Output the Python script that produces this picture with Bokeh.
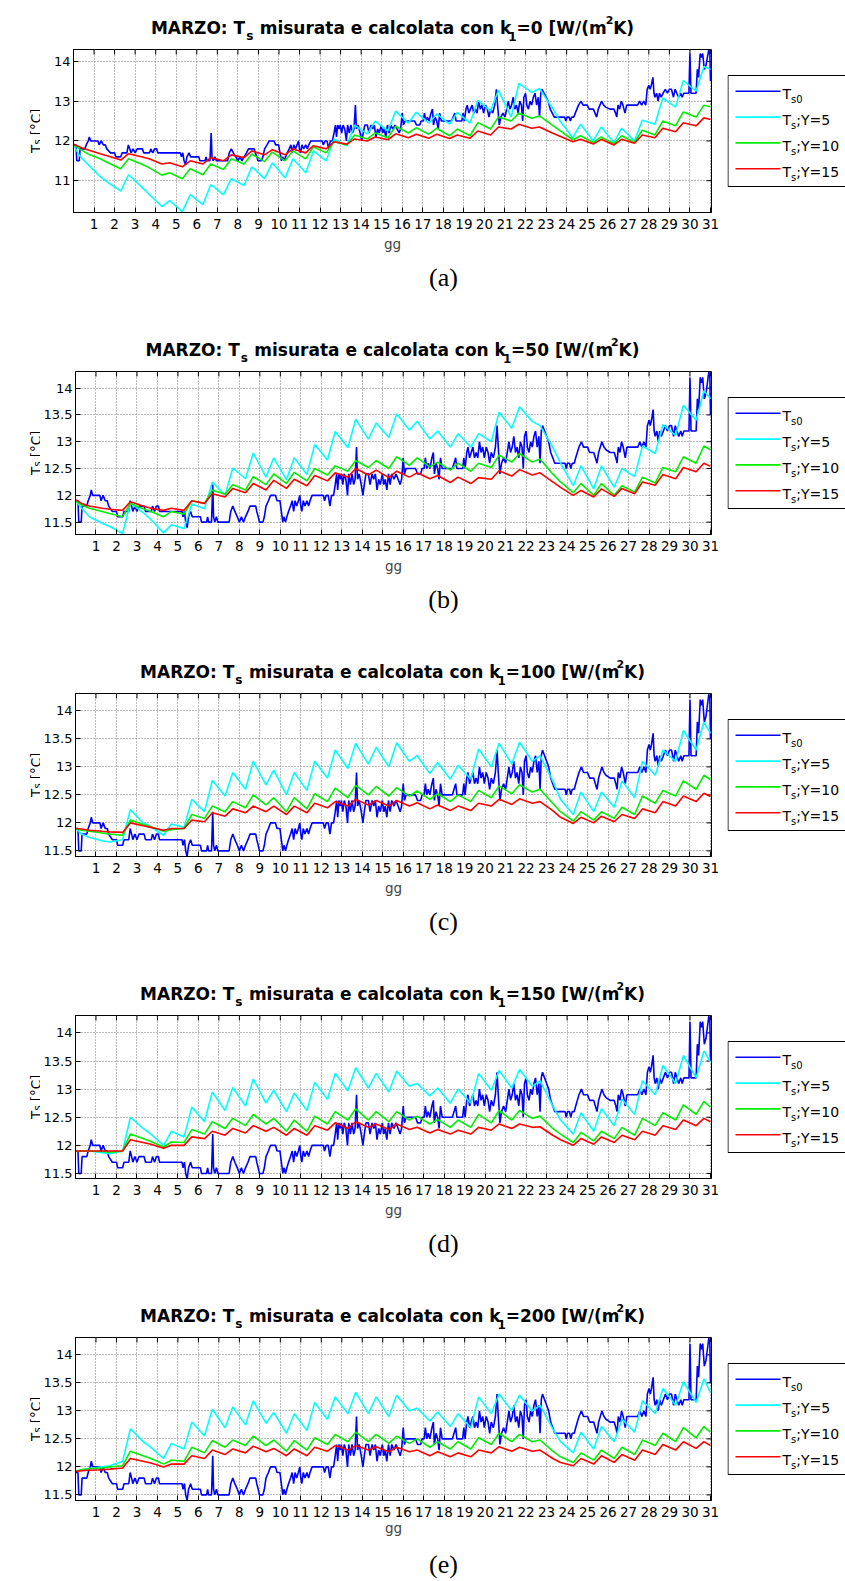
import math
from bokeh.plotting import figure
from bokeh.models import FixedTicker, Range1d
from bokeh.layouts import column, row
from bokeh.embed import file_html
from bokeh.resources import INLINE
from bokeh.core.properties import value

# ---------------- DATA ----------------
X_TICKS = list(range(1, 32))
YTICKS_A = [11, 12, 13, 14]
YLABELS_A = ["11", "12", "13", "14"]
YTICKS_B = [11.5, 12, 12.5, 13, 13.5, 14]
YLABELS_B = ["11.5", "12", "12.5", "13", "13.5", "14"]

# days at which the computed curves are sampled (start, nightly minimum, daily maximum, end)
DAY_KNOTS = [0.0,
    0.3, 0.68, 1.3, 1.68, 2.3, 2.68, 3.3, 3.68,
    4.3, 4.68, 5.3, 5.68, 6.3, 6.68, 7.3, 7.68,
    8.3, 8.68, 9.3, 9.68, 10.3, 10.68, 11.3, 11.68,
    12.3, 12.68, 13.3, 13.68, 14.3, 14.68, 15.3, 15.68,
    16.3, 16.68, 17.3, 17.68, 18.3, 18.68, 19.3, 19.68,
    20.3, 20.68, 21.3, 21.68, 22.3, 22.68, 23.3, 23.68,
    24.3, 24.68, 25.3, 25.68, 26.3, 26.68, 27.3, 27.68,
    28.3, 28.68, 29.3, 29.68, 30.3, 30.68,
    31.0]

# measured Ts0 (same in every panel): (day, degC)
TS0_POINTS = [
    (0.00, 11.9), (0.12, 11.9), (0.16, 11.5), (0.28, 11.5), (0.32, 11.8), (0.55, 11.8), (0.62, 11.9),
    (0.72, 12.0), (0.77, 12.1), (0.84, 12.0), (1.19, 12.0), (1.25, 11.9), (1.35, 12.0), (1.45, 11.9),
    (1.55, 11.9), (1.62, 11.8), (1.80, 11.7), (2.00, 11.7), (2.06, 11.6), (2.30, 11.6), (2.37, 11.7),
    (2.60, 11.7), (2.67, 11.9), (2.74, 11.8), (2.80, 11.7), (2.90, 11.8), (3.00, 11.7), (3.10, 11.8),
    (3.35, 11.8), (3.42, 11.7), (3.70, 11.7), (3.76, 11.8), (3.86, 11.7), (3.95, 11.8), (4.05, 11.8),
    (4.10, 11.7), (5.20, 11.7), (5.25, 11.6), (5.32, 11.7), (5.38, 11.5), (5.45, 11.4), (5.52, 11.6),
    (5.62, 11.7), (5.70, 11.6), (6.10, 11.6), (6.15, 11.5), (6.40, 11.5), (6.45, 11.6), (6.50, 11.5),
    (6.64, 11.5), (6.70, 12.2), (6.74, 11.6), (6.80, 11.5), (6.88, 11.6), (6.95, 11.5), (7.50, 11.5),
    (7.58, 11.7), (7.68, 11.8), (7.78, 11.7), (7.90, 11.6), (8.00, 11.5), (8.10, 11.6), (8.20, 11.5),
    (8.30, 11.6), (8.42, 11.7), (8.52, 11.8), (8.80, 11.8), (8.85, 11.7), (8.92, 11.6), (8.98, 11.5),
    (9.15, 11.5), (9.22, 11.6), (9.30, 11.8), (9.42, 11.9), (9.52, 12.0), (9.76, 12.0), (9.84, 11.9),
    (9.98, 11.9), (10.05, 11.7), (10.12, 11.5), (10.18, 11.6), (10.25, 11.5), (10.32, 11.6),
    (10.40, 11.7), (10.50, 11.8), (10.58, 11.9), (10.65, 11.7), (10.72, 11.9), (10.80, 11.8),
    (10.88, 11.9), (10.95, 12.0), (11.00, 11.8), (11.05, 11.7), (11.12, 11.9), (11.20, 11.8),
    (11.30, 11.9), (11.38, 11.8), (11.45, 11.9), (11.55, 12.0), (12.10, 12.0), (12.16, 11.9),
    (12.24, 12.0), (12.34, 12.0), (12.42, 11.8), (12.50, 12.0), (12.60, 12.0), (12.68, 12.2),
    (12.75, 12.4), (12.80, 12.1), (12.86, 12.4), (12.93, 12.3), (12.98, 12.4), (13.05, 12.2),
    (13.12, 12.4), (13.20, 12.3), (13.28, 12.0), (13.34, 12.4), (13.42, 12.2), (13.50, 12.4),
    (13.58, 12.2), (13.65, 12.3), (13.72, 12.9), (13.77, 12.3), (13.85, 12.4), (13.95, 12.2),
    (14.03, 12.0), (14.10, 12.2), (14.18, 12.4), (14.30, 12.4), (14.38, 12.2), (14.48, 12.4),
    (14.56, 12.3), (14.64, 12.4), (14.72, 12.1), (14.80, 12.3), (14.88, 12.2), (14.98, 12.4),
    (15.05, 12.2), (15.12, 12.3), (15.20, 12.1), (15.28, 12.4), (15.36, 12.2), (15.44, 12.4),
    (15.55, 12.3), (15.65, 12.4), (15.75, 12.3), (15.85, 12.2), (15.92, 12.3), (16.00, 12.7),
    (16.06, 12.4), (16.14, 12.5), (16.60, 12.5), (16.70, 12.4), (16.85, 12.4), (16.92, 12.5),
    (17.02, 12.5), (17.08, 12.7), (17.15, 12.5), (17.22, 12.6), (17.30, 12.5), (17.40, 12.7),
    (17.47, 12.8), (17.52, 12.4), (17.60, 12.6), (17.68, 12.5), (17.75, 12.3), (17.82, 12.7),
    (17.90, 12.5), (18.40, 12.5), (18.48, 12.6), (18.56, 12.7), (18.62, 12.5), (18.90, 12.5),
    (18.96, 12.7), (19.02, 12.5), (19.10, 12.8), (19.16, 12.9), (19.24, 12.7), (19.32, 12.8),
    (19.40, 12.9), (19.48, 12.7), (19.56, 12.8), (19.64, 12.7), (19.72, 13.0), (19.80, 12.8),
    (19.88, 12.9), (19.96, 12.7), (20.05, 12.9), (20.14, 12.8), (20.22, 12.6), (20.30, 12.8),
    (20.40, 12.7), (20.50, 12.9), (20.58, 13.3), (20.64, 12.9), (20.72, 12.4), (20.80, 12.6),
    (20.90, 12.7), (21.00, 12.6), (21.08, 12.8), (21.16, 13.0), (21.24, 12.8), (21.32, 12.9),
    (21.40, 13.1), (21.48, 12.8), (21.56, 12.9), (21.64, 12.7), (21.72, 13.0), (21.80, 12.9),
    (21.86, 12.5), (21.92, 13.1), (22.00, 13.2), (22.06, 12.9), (22.14, 12.8), (22.22, 13.0),
    (22.30, 12.9), (22.38, 13.1), (22.46, 13.2), (22.54, 12.9), (22.62, 13.1), (22.68, 12.6),
    (22.74, 13.2), (22.80, 13.3), (22.90, 13.2), (23.00, 13.1), (23.10, 13.0), (23.20, 12.8),
    (23.30, 12.7), (23.40, 12.6), (23.90, 12.6), (23.96, 12.5), (24.02, 12.6), (24.12, 12.6),
    (24.18, 12.5), (24.25, 12.6), (24.35, 12.6), (24.42, 12.7), (24.50, 12.8), (24.58, 12.9),
    (24.70, 13.0), (24.80, 12.9), (25.00, 12.9), (25.10, 12.8), (25.30, 12.8), (25.38, 12.7),
    (25.46, 12.6), (25.54, 12.8), (25.62, 12.9), (25.70, 13.0), (25.80, 12.9), (25.90, 12.85),
    (26.10, 12.8), (26.30, 12.8), (26.38, 12.7), (26.44, 12.6), (26.50, 12.9), (26.58, 12.8),
    (26.66, 13.0), (26.74, 12.9), (26.84, 12.7), (26.92, 12.9), (27.00, 12.9), (27.45, 12.9),
    (27.55, 13.0), (27.65, 12.9), (27.75, 13.0), (27.85, 12.9), (27.92, 13.3), (28.00, 13.4),
    (28.06, 13.3), (28.12, 13.4), (28.20, 13.6), (28.25, 13.2), (28.30, 13.1), (28.38, 13.2),
    (28.45, 13.0), (28.52, 13.2), (28.60, 13.1), (28.70, 13.2), (28.80, 13.3), (28.90, 13.2),
    (29.00, 13.3), (29.10, 13.3), (29.20, 13.1), (29.28, 13.3), (29.36, 13.2), (29.45, 13.1),
    (29.55, 13.2), (29.62, 13.1), (29.70, 13.2), (29.95, 13.2), (30.00, 14.2), (30.05, 13.2),
    (30.30, 13.2), (30.36, 13.8), (30.42, 13.6), (30.50, 14.2), (30.56, 14.1), (30.62, 14.2),
    (30.70, 13.8), (30.78, 13.9), (30.85, 14.1), (30.92, 14.3), (30.97, 14.2), (31.00, 13.5),
]
TS0_DAYS = [d for d, v in TS0_POINTS]
TS0_VALUES = [v for d, v in TS0_POINTS]

# ---- k1 = 0 ----
A_Y5 = [11.90,
    11.62, 11.42, 11.10, 10.95, 10.74, 11.15, 10.85, 10.66,
    10.35, 10.50, 10.22, 10.65, 10.40, 10.90, 10.65, 11.05,
    10.88, 11.35, 11.05, 11.45, 11.07, 11.55, 11.20, 11.75,
    11.50, 12.05, 11.88, 12.40, 12.17, 12.50, 12.25, 12.75,
    12.45, 12.72, 12.45, 12.68, 12.42, 12.72, 12.45, 13.02,
    12.75, 13.28, 12.60, 13.45, 13.22, 13.32, 12.83, 12.50,
    12.08, 12.42, 12.00, 12.35, 11.96, 12.32, 12.00, 12.52,
    12.42, 13.08, 12.85, 13.52, 13.25, 13.87,
    13.80]
A_Y10 = [11.90,
    11.80, 11.68, 11.55, 11.45, 11.30, 11.55, 11.42, 11.33,
    11.14, 11.20, 11.05, 11.30, 11.15, 11.42, 11.28, 11.55,
    11.42, 11.67, 11.48, 11.72, 11.50, 11.75, 11.55, 11.85,
    11.70, 11.98, 11.90, 12.15, 12.05, 12.20, 12.08, 12.37,
    12.20, 12.33, 12.17, 12.32, 12.13, 12.30, 12.13, 12.46,
    12.30, 12.60, 12.50, 12.70, 12.57, 12.63, 12.40, 12.26,
    12.03, 12.13, 11.96, 12.10, 11.93, 12.13, 11.96, 12.27,
    12.15, 12.50, 12.38, 12.73, 12.60, 12.90,
    12.86]
A_Y15 = [11.92,
    11.85, 11.78, 11.68, 11.62, 11.52, 11.68, 11.60, 11.55,
    11.42, 11.45, 11.35, 11.50, 11.42, 11.58, 11.50, 11.65,
    11.58, 11.75, 11.65, 11.78, 11.65, 11.80, 11.70, 11.88,
    11.80, 11.98, 11.92, 12.05, 12.00, 12.10, 12.03, 12.18,
    12.08, 12.17, 12.07, 12.17, 12.06, 12.15, 12.07, 12.25,
    12.15, 12.35, 12.30, 12.42, 12.32, 12.35, 12.20, 12.12,
    11.98, 12.04, 11.92, 12.04, 11.90, 12.04, 11.94, 12.15,
    12.08, 12.32, 12.23, 12.46, 12.38, 12.58,
    12.54]
# ---- k1 = 50 ----
B_Y5 = [11.90,
    11.76, 11.60, 11.48, 11.42, 11.29, 11.86, 11.68, 11.55,
    11.30, 11.45, 11.38, 11.84, 11.75, 12.25, 12.00, 12.51,
    12.31, 12.79, 12.34, 12.70, 12.29, 12.70, 12.39, 12.95,
    12.66, 13.19, 12.89, 13.42, 13.05, 13.35, 13.08, 13.52,
    13.22, 13.38, 13.05, 13.20, 12.90, 13.15, 12.90, 13.15,
    13.00, 13.55, 13.25, 13.65, 13.38, 13.30, 12.90, 12.60,
    12.18, 12.55, 12.12, 12.55, 12.15, 12.50, 12.35, 12.92,
    12.78, 13.32, 13.12, 13.68, 13.40, 13.95,
    13.80]
B_Y10 = [11.90,
    11.82, 11.76, 11.70, 11.66, 11.60, 11.85, 11.75, 11.70,
    11.60, 11.70, 11.65, 11.90, 11.85, 12.10, 12.02, 12.20,
    12.10, 12.35, 12.20, 12.40, 12.22, 12.43, 12.27, 12.50,
    12.38, 12.55, 12.45, 12.65, 12.52, 12.65, 12.50, 12.72,
    12.56, 12.70, 12.53, 12.62, 12.47, 12.60, 12.45, 12.60,
    12.52, 12.75, 12.62, 12.78, 12.62, 12.68, 12.40, 12.25,
    12.05, 12.22, 12.00, 12.22, 12.00, 12.18, 12.06, 12.34,
    12.23, 12.52, 12.44, 12.72, 12.60, 12.92,
    12.85]
B_Y15 = [11.92,
    11.85, 11.80, 11.76, 11.74, 11.72, 11.88, 11.80, 11.76,
    11.72, 11.76, 11.72, 11.90, 11.85, 12.03, 11.97, 12.13,
    12.05, 12.22, 12.10, 12.28, 12.13, 12.30, 12.18, 12.37,
    12.27, 12.42, 12.34, 12.50, 12.38, 12.47, 12.33, 12.45,
    12.34, 12.42, 12.31, 12.37, 12.24, 12.34, 12.22, 12.33,
    12.30, 12.46, 12.36, 12.48, 12.38, 12.42, 12.25, 12.15,
    12.00, 12.09, 11.97, 12.12, 11.98, 12.13, 12.03, 12.25,
    12.19, 12.39, 12.31, 12.52, 12.44, 12.60,
    12.54]
# ---- k1 = 100 ----
C_Y5 = [11.90,
    11.80, 11.74, 11.68, 11.66, 11.70, 12.24, 12.00, 11.93,
    11.78, 11.98, 11.92, 12.42, 12.20, 12.76, 12.48, 12.90,
    12.60, 13.10, 12.68, 12.94, 12.50, 12.90, 12.58, 13.10,
    12.80, 13.30, 12.97, 13.42, 13.05, 13.35, 13.00, 13.43,
    13.10, 13.20, 12.88, 13.08, 12.78, 13.03, 12.78, 13.32,
    13.00, 13.42, 13.05, 13.44, 13.10, 13.20, 12.75, 12.42,
    12.15, 12.55, 12.20, 12.55, 12.28, 12.75, 12.45, 13.10,
    12.85, 13.30, 13.10, 13.65, 13.30, 13.80,
    13.60]
C_Y10 = [11.90,
    11.87, 11.85, 11.82, 11.80, 11.78, 12.05, 11.97, 11.93,
    11.85, 11.88, 11.90, 12.15, 12.08, 12.30, 12.20, 12.38,
    12.27, 12.50, 12.32, 12.45, 12.20, 12.45, 12.25, 12.52,
    12.38, 12.62, 12.45, 12.67, 12.50, 12.65, 12.48, 12.63,
    12.48, 12.57, 12.42, 12.52, 12.38, 12.50, 12.38, 12.58,
    12.45, 12.66, 12.52, 12.68, 12.55, 12.60, 12.35, 12.20,
    12.03, 12.20, 12.05, 12.20, 12.08, 12.28, 12.15, 12.48,
    12.35, 12.58, 12.48, 12.75, 12.60, 12.85,
    12.77]
C_Y15 = [11.90,
    11.89, 11.87, 11.85, 11.84, 11.83, 12.00, 11.95, 11.92,
    11.87, 11.90, 11.90, 12.05, 12.02, 12.18, 12.12, 12.25,
    12.18, 12.30, 12.20, 12.30, 12.15, 12.30, 12.18, 12.35,
    12.27, 12.38, 12.30, 12.42, 12.32, 12.40, 12.30, 12.40,
    12.30, 12.36, 12.25, 12.32, 12.22, 12.30, 12.22, 12.35,
    12.30, 12.42, 12.33, 12.43, 12.35, 12.38, 12.22, 12.10,
    11.99, 12.10, 12.00, 12.12, 12.02, 12.15, 12.08, 12.25,
    12.18, 12.38, 12.30, 12.48, 12.38, 12.53,
    12.47]
# ---- k1 = 150 ----
D_Y5 = [11.90,
    11.90, 11.90, 11.87, 11.85, 11.90, 12.50, 12.30, 12.20,
    12.00, 12.25, 12.15, 12.68, 12.42, 12.95, 12.62, 13.03,
    12.70, 13.18, 12.75, 12.98, 12.60, 12.93, 12.62, 13.12,
    12.82, 13.28, 12.97, 13.38, 13.02, 13.28, 12.95, 13.32,
    13.05, 13.10, 12.88, 13.02, 12.75, 13.00, 12.75, 13.28,
    12.98, 13.33, 13.02, 13.35, 13.05, 13.15, 12.70, 12.45,
    12.20, 12.58, 12.25, 12.65, 12.35, 12.82, 12.55, 13.15,
    12.90, 13.42, 13.10, 13.60, 13.20, 13.68,
    13.48]
D_Y10 = [11.90,
    11.90, 11.90, 11.89, 11.88, 11.90, 12.20, 12.12, 12.07,
    11.97, 12.06, 12.05, 12.28, 12.20, 12.42, 12.30, 12.48,
    12.35, 12.55, 12.38, 12.48, 12.25, 12.45, 12.25, 12.52,
    12.38, 12.60, 12.45, 12.65, 12.45, 12.60, 12.42, 12.60,
    12.45, 12.52, 12.38, 12.46, 12.32, 12.45, 12.32, 12.55,
    12.40, 12.62, 12.45, 12.62, 12.48, 12.52, 12.30, 12.20,
    12.05, 12.23, 12.08, 12.25, 12.12, 12.32, 12.18, 12.48,
    12.35, 12.58, 12.45, 12.72, 12.55, 12.78,
    12.68]
D_Y15 = [11.90,
    11.90, 11.90, 11.90, 11.90, 11.90, 12.10, 12.05, 12.02,
    11.95, 12.00, 12.00, 12.15, 12.12, 12.25, 12.18, 12.30,
    12.22, 12.35, 12.25, 12.32, 12.18, 12.30, 12.18, 12.35,
    12.27, 12.40, 12.30, 12.42, 12.32, 12.38, 12.28, 12.38,
    12.28, 12.32, 12.22, 12.28, 12.20, 12.27, 12.20, 12.32,
    12.27, 12.38, 12.30, 12.38, 12.32, 12.33, 12.18, 12.10,
    12.00, 12.12, 12.02, 12.15, 12.05, 12.18, 12.10, 12.25,
    12.18, 12.35, 12.28, 12.45, 12.35, 12.48,
    12.42]
# ---- k1 = 200 ----
E_Y5 = [11.92,
    11.95, 11.97, 12.00, 12.02, 12.10, 12.68, 12.45, 12.35,
    12.15, 12.42, 12.32, 12.80, 12.55, 13.03, 12.70, 13.07,
    12.75, 13.18, 12.78, 12.97, 12.60, 12.95, 12.65, 13.15,
    12.85, 13.25, 12.95, 13.33, 12.95, 13.25, 12.90, 13.28,
    13.00, 13.05, 12.82, 12.98, 12.72, 12.95, 12.70, 13.25,
    12.95, 13.30, 13.00, 13.28, 13.00, 13.10, 12.68, 12.45,
    12.25, 12.62, 12.32, 12.72, 12.45, 12.85, 12.62, 13.18,
    12.95, 13.40, 13.10, 13.52, 13.15, 13.57,
    13.32]
E_Y10 = [11.92,
    11.95, 11.97, 11.98, 12.00, 12.02, 12.28, 12.20, 12.15,
    12.05, 12.12, 12.10, 12.35, 12.25, 12.47, 12.35, 12.48,
    12.38, 12.55, 12.38, 12.48, 12.28, 12.47, 12.30, 12.52,
    12.40, 12.58, 12.45, 12.62, 12.45, 12.58, 12.42, 12.55,
    12.42, 12.50, 12.35, 12.45, 12.32, 12.45, 12.32, 12.52,
    12.40, 12.60, 12.45, 12.58, 12.45, 12.48, 12.28, 12.18,
    12.08, 12.25, 12.12, 12.30, 12.15, 12.35, 12.22, 12.48,
    12.38, 12.60, 12.45, 12.70, 12.52, 12.72,
    12.62]
E_Y15 = [11.92,
    11.93, 11.94, 11.95, 11.96, 11.98, 12.15, 12.10, 12.07,
    12.00, 12.05, 12.05, 12.20, 12.15, 12.30, 12.22, 12.32,
    12.25, 12.37, 12.27, 12.33, 12.20, 12.32, 12.20, 12.35,
    12.28, 12.38, 12.30, 12.38, 12.30, 12.36, 12.27, 12.35,
    12.27, 12.30, 12.20, 12.27, 12.18, 12.25, 12.18, 12.30,
    12.25, 12.36, 12.28, 12.35, 12.28, 12.30, 12.15, 12.08,
    12.02, 12.15, 12.05, 12.20, 12.08, 12.22, 12.12, 12.30,
    12.22, 12.40, 12.30, 12.45, 12.33, 12.45,
    12.38]

PANELS = [
    dict(k="0",   tag="(a)", y5=A_Y5, y10=A_Y10, y15=A_Y15, ylim=(10.2, 14.3),  yt=YTICKS_A, yl=YLABELS_A),
    dict(k="50",  tag="(b)", y5=B_Y5, y10=B_Y10, y15=B_Y15, ylim=(11.27, 14.31), yt=YTICKS_B, yl=YLABELS_B),
    dict(k="100", tag="(c)", y5=C_Y5, y10=C_Y10, y15=C_Y15, ylim=(11.4, 14.31),  yt=YTICKS_B, yl=YLABELS_B),
    dict(k="150", tag="(d)", y5=D_Y5, y10=D_Y10, y15=D_Y15, ylim=(11.41, 14.31), yt=YTICKS_B, yl=YLABELS_B),
    dict(k="200", tag="(e)", y5=E_Y5, y10=E_Y10, y15=E_Y15, ylim=(11.4, 14.31),  yt=YTICKS_B, yl=YLABELS_B),
]
LEGEND_LABELS = [("s0", ""), ("s", ";Y=5"), ("s", ";Y=10"), ("s", ";Y=15")]
COLORS = ["#0000ff", "#00ffff", "#00ee00", "#ff0000"]

# ---------------- LAYOUT / STYLE ----------------
SANS = "DejaVu Sans"
SERIF = "Liberation Serif"
PAGE_W = 845
YLAB_W, LEG_W = 40, 118
MAIN_W = PAGE_W - YLAB_W - LEG_W           # 687
FRAME_L = 73 - YLAB_W                      # 33
FW, FH = 638, 163
TITLE_H = 44
FRAME_T = 49 - TITLE_H                     # 5
# per panel: space under the frame, x-label standoff, caption strip height, caption baseline
BOTTOMS = [(50, 4, 60, 14.5)] * 4 + [(44, 0, 37, 20.0)]
XR = (0.0, 31.05)
LW = 1.6

BOLD_W = {' ': 348, ':': 400, 'M': 995, 'A': 774, 'R': 770, 'Z': 725, 'O': 850, 'T': 682,
          's': 595, 'm': 1042, 'i': 343, 'u': 712, 'r': 493, 'a': 675, 't': 478, 'e': 678,
          'c': 593, 'l': 343, 'o': 687, 'n': 712, 'k': 665, '=': 838, '[': 457, 'W': 1103,
          '/': 365, '(': 457, ')': 457, 'K': 775}
REG_W = {'T': 611, 's': 521, '[': 390, '°': 500, 'C': 698, ']': 390}


def text_width(s, size, table):
    return sum(table.get(c, 636) for c in s) * size / 1000.0


def bare(width, height, xr, yr, top=0, bottom=0):
    f = figure(width=width, height=height, x_range=Range1d(*xr), y_range=Range1d(*yr),
               output_backend="svg", toolbar_location=None, title_location=None,
               x_axis_location=None, y_axis_location=None,
               min_border_left=0, min_border_right=0, min_border_top=top, min_border_bottom=bottom)
    f.xgrid.visible = False
    f.ygrid.visible = False
    f.outline_line_color = None
    f.background_fill_color = "white"
    f.border_fill_color = "white"
    return f


def txt(f, x, y, s, size, bold=False, font=SANS, align="left", angle=0.0):
    f.text(x=[x], y=[y], text=[s], angle=angle, text_font=value(font),
           text_font_size=value(f"{size}px"),
           text_font_style=value("bold" if bold else "normal"),
           text_align=value(align), text_baseline=value("alphabetic"), text_color="black")


def style_axis(ax):
    ax.major_tick_in = 5
    ax.major_tick_out = 0
    ax.minor_tick_line_color = None
    ax.axis_line_color = "black"
    ax.major_tick_line_color = "black"
    ax.major_label_text_font = SANS
    ax.major_label_text_color = "black"
    ax.major_label_text_font_size = "13.5px"


def make_title(P):
    # canvas-pixel coordinates, y measured downward from the top of the strip
    f = bare(PAGE_W, TITLE_H, (0, PAGE_W), (TITLE_H, 0))
    pieces = [("MARZO: T", 17, 0.0, 1.0), ("s", 12, 8.5, 0.5),
              (" misurata e calcolata con k", 17, 0.0, -3.0), ("1", 12, 8.5, 0.5),
              ("=" + P["k"] + " [W/(m", 17, 0.0, 0.0), ("2", 11, -7.5, 0.5), ("K)", 17, 0.0, 0.0)]
    total = sum(text_width(t, s, BOLD_W) + g for t, s, _, g in pieces)
    cx = 73 + FW / 2.0 - total / 2.0
    for t, s, dy, g in pieces:
        lead = len(t) - len(t.lstrip(" "))
        shift = text_width(" " * lead, s, BOLD_W)
        txt(f, cx + shift, 27.3 + dy, t.lstrip(" "), s, bold=True)
        cx += text_width(t, s, BOLD_W) + g
    return f


def make_ylabel(mid_h, frame_b):
    # frame-aligned with the plot frame; y measured upward from the frame bottom.
    # Rotated pieces are right-aligned, so each one ends at its anchor.
    f = bare(YLAB_W, mid_h, (0, YLAB_W), (0, FH), top=FRAME_T, bottom=frame_b)
    y = FH / 2.0 - 22.0               # lower end of the rotated label
    for s, size, xb, gap in [("T", 13.5, 35.5, 0.2), ("s", 10, 37.0, 4.0), ("[°C]", 13.5, 35.5, 0.0)]:
        w = text_width(s, size, REG_W)
        txt(f, xb, y + w, s, size, align="right", angle=math.pi / 2)
        y += w + gap
    return f


def make_main(P, mid_h, frame_b, lab_standoff):
    y0, y1 = P["ylim"]
    p = figure(width=MAIN_W, height=mid_h, x_range=Range1d(*XR), y_range=Range1d(y0, y1),
               output_backend="svg", toolbar_location=None, title_location=None,
               min_border_left=FRAME_L, min_border_right=MAIN_W - FRAME_L - FW,
               min_border_top=FRAME_T, min_border_bottom=frame_b)
    p.background_fill_color = "white"
    p.border_fill_color = "white"
    p.outline_line_color = "black"

    style_axis(p.xaxis[0])
    style_axis(p.yaxis[0])
    p.yaxis.major_label_text_font_size = "13px"
    p.xaxis.ticker = FixedTicker(ticks=X_TICKS)
    p.yaxis.ticker = FixedTicker(ticks=P["yt"])
    p.yaxis.major_label_overrides = {t: s for t, s in zip(P["yt"], P["yl"])}
    p.xaxis.major_label_standoff = 6
    p.yaxis.major_label_standoff = 3
    p.xaxis.axis_label = "gg"
    p.xaxis.axis_label_text_font = SANS
    p.xaxis.axis_label_text_font_size = "13.5px"
    p.xaxis.axis_label_text_font_style = "normal"
    p.xaxis.axis_label_standoff = lab_standoff

    p.xgrid.ticker = FixedTicker(ticks=X_TICKS)
    p.ygrid.ticker = FixedTicker(ticks=P["yt"])
    p.grid.grid_line_color = "#7a7a7a"
    p.grid.grid_line_dash = "1 2"
    p.grid.grid_line_width = 1

    # inward tick marks on the top and right edges of the box
    dy = 5.0 / FH * (y1 - y0)
    dx = 5.0 / FW * (XR[1] - XR[0])
    p.segment(x0=X_TICKS, y0=[y1] * len(X_TICKS), x1=X_TICKS, y1=[y1 - dy] * len(X_TICKS),
              line_color="black", line_width=1)
    p.segment(x0=[XR[1] - dx] * len(P["yt"]), y0=P["yt"], x1=[XR[1]] * len(P["yt"]), y1=P["yt"],
              line_color="black", line_width=1)

    p.line(TS0_DAYS, TS0_VALUES, line_color=COLORS[0], line_width=LW)
    p.line(DAY_KNOTS, P["y5"], line_color=COLORS[1], line_width=LW)
    p.line(DAY_KNOTS, P["y10"], line_color=COLORS[2], line_width=LW)
    p.line(DAY_KNOTS, P["y15"], line_color=COLORS[3], line_width=LW)
    return p


def make_legend(mid_h, frame_b):
    # frame-aligned with the plot frame; y measured downward from the frame top
    lg = bare(LEG_W, mid_h, (0, LEG_W), (FH, 0), top=FRAME_T, bottom=frame_b)
    bt, bb = 75 - 49, 186 - 49          # legend box top / bottom
    lg.line([LEG_W, 0.5, 0.5, LEG_W], [bt, bt, bb, bb], line_color="black", line_width=1)
    rows_y = [bt + 15.8, bt + 41.6, bt + 67.4, bt + 93.2]
    for (sub, rest), col, yy in zip(LEGEND_LABELS, COLORS, rows_y):
        lg.line([8, 53], [yy, yy], line_color=col, line_width=LW)
        txt(lg, 55.0, yy + 3.0, "T", 14)
        txt(lg, 63.6, yy + 8.5, sub, 10)
        if rest:
            txt(lg, 68.8, yy + 3.0, rest, 14)
    return lg


def make_caption(P, h, base):
    f = bare(PAGE_W, h, (0, PAGE_W), (h, 0))
    txt(f, 443, base, P["tag"], 26, font=SERIF, align="center")
    return f


blocks = []
for P, (frame_b, lab_so, cap_h, cap_base) in zip(PANELS, BOTTOMS):
    mid_h = FRAME_T + FH + frame_b
    blocks.append(make_title(P))
    blocks.append(row(make_ylabel(mid_h, frame_b), make_main(P, mid_h, frame_b, lab_so),
                      make_legend(mid_h, frame_b)))
    blocks.append(make_caption(P, cap_h, cap_base))
layout = column(*blocks)

open("out.html", "w").write(file_html(layout, INLINE))
